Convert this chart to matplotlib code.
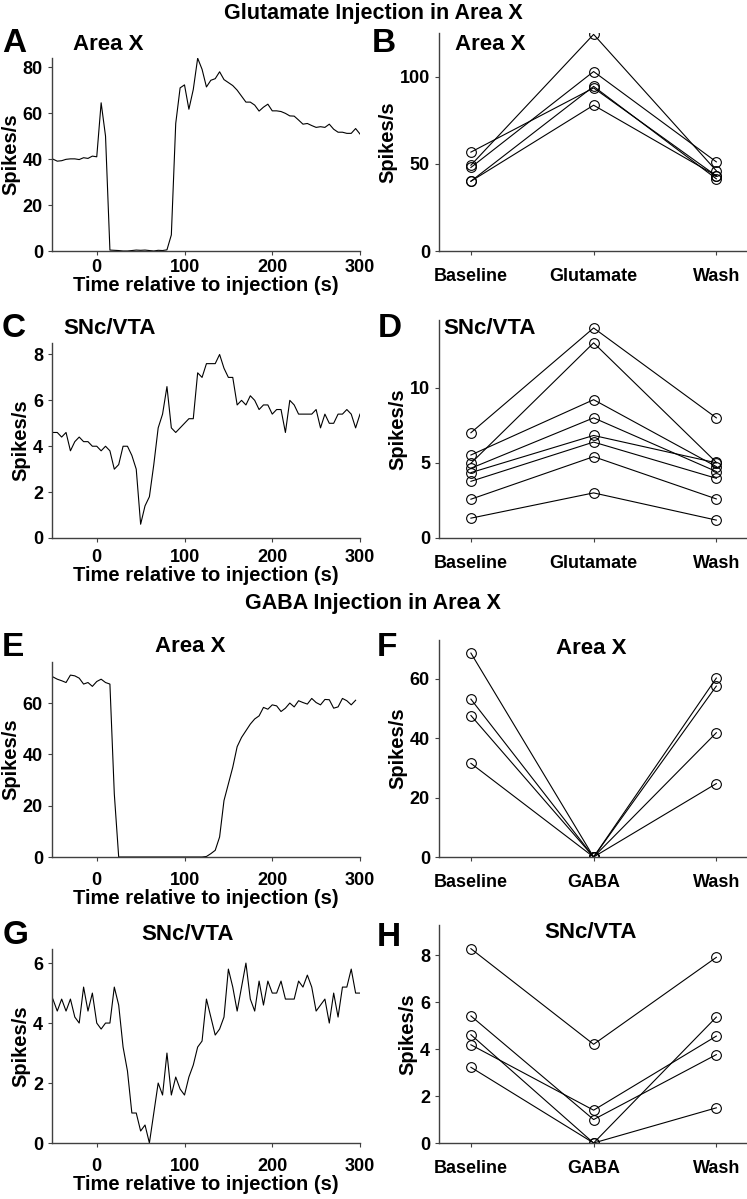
import numpy as np
import matplotlib
matplotlib.use('Agg')
import matplotlib.pyplot as plt

plt.rcParams['font.family'] = ['Liberation Sans', 'DejaVu Sans']
plt.rcParams['font.weight'] = 'bold'

# ---- data ----
t_a = np.arange(-50, 301, 5)
rate_a = [40.0, 39.1, 39.3, 39.9, 40.1, 40.1, 39.8, 40.6, 40.3, 41.3,
          41.0, 64.5, 50.0, 0.4, 0.3, 0.2, 0.0, 0.0, 0.2, 0.4,
          0.3, 0.4, 0.2, 0.0, 0.3, 0.2, 0.5, 7.0, 55.5, 71.0,
          72.3, 61.7, 70.3, 83.9, 79.1, 71.4, 74.3, 75.0, 78.0, 74.6,
          73.3, 72.0, 70.0, 67.4, 64.8, 64.8, 63.5, 60.9, 62.6, 63.9,
          61.0, 61.0, 60.7, 59.9, 58.8, 58.7, 57.0, 55.2, 55.5, 54.6,
          53.8, 54.1, 53.8, 55.2, 53.0, 51.7, 51.7, 51.2, 51.2, 53.3,
          50.9]

t_c = np.arange(-50, 301, 5)
rate_c = [4.6, 4.6, 4.4, 4.6, 3.8, 4.2, 4.4, 4.2, 4.2, 4.0,
          4.0, 3.8, 4.0, 3.8, 3.0, 3.2, 4.0, 4.0, 3.6, 3.0,
          0.6, 1.4, 1.8, 3.2, 4.8, 5.4, 6.6, 4.8, 4.6, 4.8,
          5.0, 5.2, 5.2, 7.2, 7.0, 7.6, 7.6, 7.6, 8.0, 7.4,
          7.0, 7.0, 5.8, 6.0, 5.8, 6.2, 6.0, 5.6, 5.8, 5.8,
          5.4, 5.6, 5.6, 4.6, 6.0, 5.8, 5.4, 5.4, 5.4, 5.4,
          5.6, 4.8, 5.4, 5.0, 5.0, 5.4, 5.4, 5.6, 5.4, 4.8,
          5.4]

t_e = np.arange(-50, 296, 5)
rate_e = [70.2, 69.3, 68.7, 68.0, 70.9, 70.6, 69.7, 67.4, 68.0, 66.5,
          68.4, 69.3, 68.0, 67.4, 24.6, 0, 0, 0, 0, 0,
          0, 0, 0, 0, 0, 0, 0, 0, 0, 0,
          0, 0, 0, 0, 0, 0.2, 1.3, 2.6, 7.8, 22.0,
          28.5, 35.0, 43.0, 46.6, 49.2, 51.8, 53.8, 55.0, 58.3, 57.6,
          59.3, 58.9, 56.7, 58.0, 60.0, 58.5, 60.9, 60.2, 59.6, 61.8,
          60.2, 59.3, 61.4, 61.3, 58.0, 58.5, 61.8, 60.9, 59.3, 61.1]

t_g = np.arange(-50, 301, 5)
rate_g = [4.8, 4.4, 4.8, 4.4, 4.8, 4.2, 4.0, 5.2, 4.4, 5.0,
          4.0, 3.8, 4.0, 4.0, 5.2, 4.6, 3.2, 2.4, 1.0, 1.0,
          0.4, 0.6, 0.0, 1.0, 2.0, 1.6, 3.0, 1.6, 2.2, 1.8,
          1.6, 2.2, 2.6, 3.2, 3.4, 4.8, 4.2, 3.6, 3.8, 4.2,
          5.8, 5.2, 4.4, 5.2, 6.0, 4.8, 4.4, 5.4, 4.6, 5.4,
          5.0, 5.0, 5.4, 4.8, 4.8, 4.8, 5.4, 5.2, 5.6, 5.2,
          4.4, 4.6, 4.8, 4.0, 5.0, 4.2, 5.2, 5.2, 5.8, 5.0,
          5.0]

glu_labels = ['Baseline', 'Glutamate', 'Wash']
gaba_labels = ['Baseline', 'GABA', 'Wash']

# per-cell values: baseline, drug, wash
cells_b = [[49.2, 124.2, 46.0],
           [47.9, 102.9, 51.1],
           [56.7, 93.5, 43.1],
           [40.0, 94.4, 41.4],
           [40.0, 83.6, 43.1]]

cells_d = [[7.0, 13.97, 7.99],
           [4.97, 12.98, 5.03],
           [5.52, 9.2, 4.75],
           [4.64, 7.99, 4.42],
           [4.35, 6.82, 5.0],
           [3.77, 6.38, 3.97],
           [2.58, 5.41, 2.6],
           [1.32, 3.0, 1.19]]

cells_f = [[68.6, 0.0, 60.2],
           [53.1, 0.0, 57.5],
           [47.6, 0.0, 41.8],
           [31.5, 0.0, 24.7]]

cells_h = [[8.29, 4.21, 7.92],
           [5.42, 1.0, 3.77],
           [4.62, 0.0, 5.37],
           [4.19, 1.4, 4.56],
           [3.23, 0.0, 1.5]]

W, H = 747, 1199
fig = plt.figure(figsize=(W / 100, H / 100), dpi=100)


def box(left, right, bottom, top):
    return [left / W, 1 - bottom / H, (right - left) / W, (bottom - top) / H]


def style(ax, ylim, yticks, pad):
    for s in ['top', 'right']:
        ax.spines[s].set_visible(False)
    for s in ['left', 'bottom']:
        ax.spines[s].set_color('#404040')
        ax.spines[s].set_linewidth(1.0)
    ax.set_ylim(*ylim)
    ax.set_yticks(yticks)
    ax.tick_params(length=3, width=0.8, color='#404040', labelsize=13)
    ax.tick_params(axis='x', pad=pad)
    ax.tick_params(axis='y', pad=3.5)
    ax.set_ylabel('Spikes/s', fontsize=14.5, fontweight='bold', labelpad=2)


def trace(pos, t, r, ylim, yticks, pad):
    ax = fig.add_axes(box(*pos))
    ax.plot(t, r, color='black', lw=0.8)
    ax.set_xlim(-51, 300)
    ax.set_xticks([0, 100, 200, 300])
    style(ax, ylim, yticks, pad)
    ax.set_xlabel('Time relative to injection (s)', fontsize=14.5,
                  fontweight='bold', labelpad=0)
    return ax


def cells(pos, data, labels, ylim, yticks, pad):
    ax = fig.add_axes(box(*pos))
    for c in data:
        ax.plot([1, 2, 3], c, color='black', lw=0.8, marker='o', ms=7,
                mfc='none', mec='black', mew=0.8)
    ax.set_xlim(0.74, 3.25)
    ax.set_xticks([1, 2, 3])
    ax.set_xticklabels(labels)
    style(ax, ylim, yticks, pad)
    return ax


trace((52, 360, 251, 58), t_a, rate_a, (0, 84), [0, 20, 40, 60, 80], 3)
cells((439, 747, 251, 33), cells_b, glu_labels, (0, 125), [0, 50, 100], 9)
trace((52, 360, 538, 343), t_c, rate_c, (0, 8.5), [0, 2, 4, 6, 8], 5)
cells((439, 747, 538, 320), cells_d, glu_labels, (0, 14.5), [0, 5, 10], 9)
trace((52, 360, 857, 662), t_e, rate_e, (0, 76), [0, 20, 40, 60], 8)
cells((439, 747, 857, 640), cells_f, gaba_labels, (0, 73), [0, 20, 40, 60], 9)
trace((52, 360, 1143, 949), t_g, rate_g, (0, 6.47), [0, 2, 4, 6], 8)
cells((439, 747, 1143, 925), cells_h, gaba_labels, (0, 9.3), [0, 2, 4, 6, 8], 9)


def ftext(x, y, s, size, ha='center'):
    fig.text(x / W, 1 - y / H, s, fontsize=size, fontweight='bold',
             ha=ha, va='center')


# section headings
ftext(373, 14, 'Glutamate Injection in Area X', 15.5)
ftext(373, 603, 'GABA Injection in Area X', 15.5)

# panel letters
for letter, x, y in [('A', 2, 44), ('B', 372, 44), ('C', 2, 329), ('D', 378, 329),
                     ('E', 2, 648), ('F', 377, 648), ('G', 3, 936), ('H', 377, 937)]:
    ftext(x, y, letter, 24, ha='left')

# panel titles
ftext(73, 44, 'Area X', 16, ha='left')
ftext(455, 44, 'Area X', 16, ha='left')
ftext(63, 328, 'SNc/VTA', 16, ha='left')
ftext(443, 328, 'SNc/VTA', 16, ha='left')
ftext(190, 647, 'Area X', 16)
ftext(591, 648, 'Area X', 16)
ftext(188, 935, 'SNc/VTA', 16)
ftext(591, 933, 'SNc/VTA', 16)

plt.savefig('out.png', dpi=100)
